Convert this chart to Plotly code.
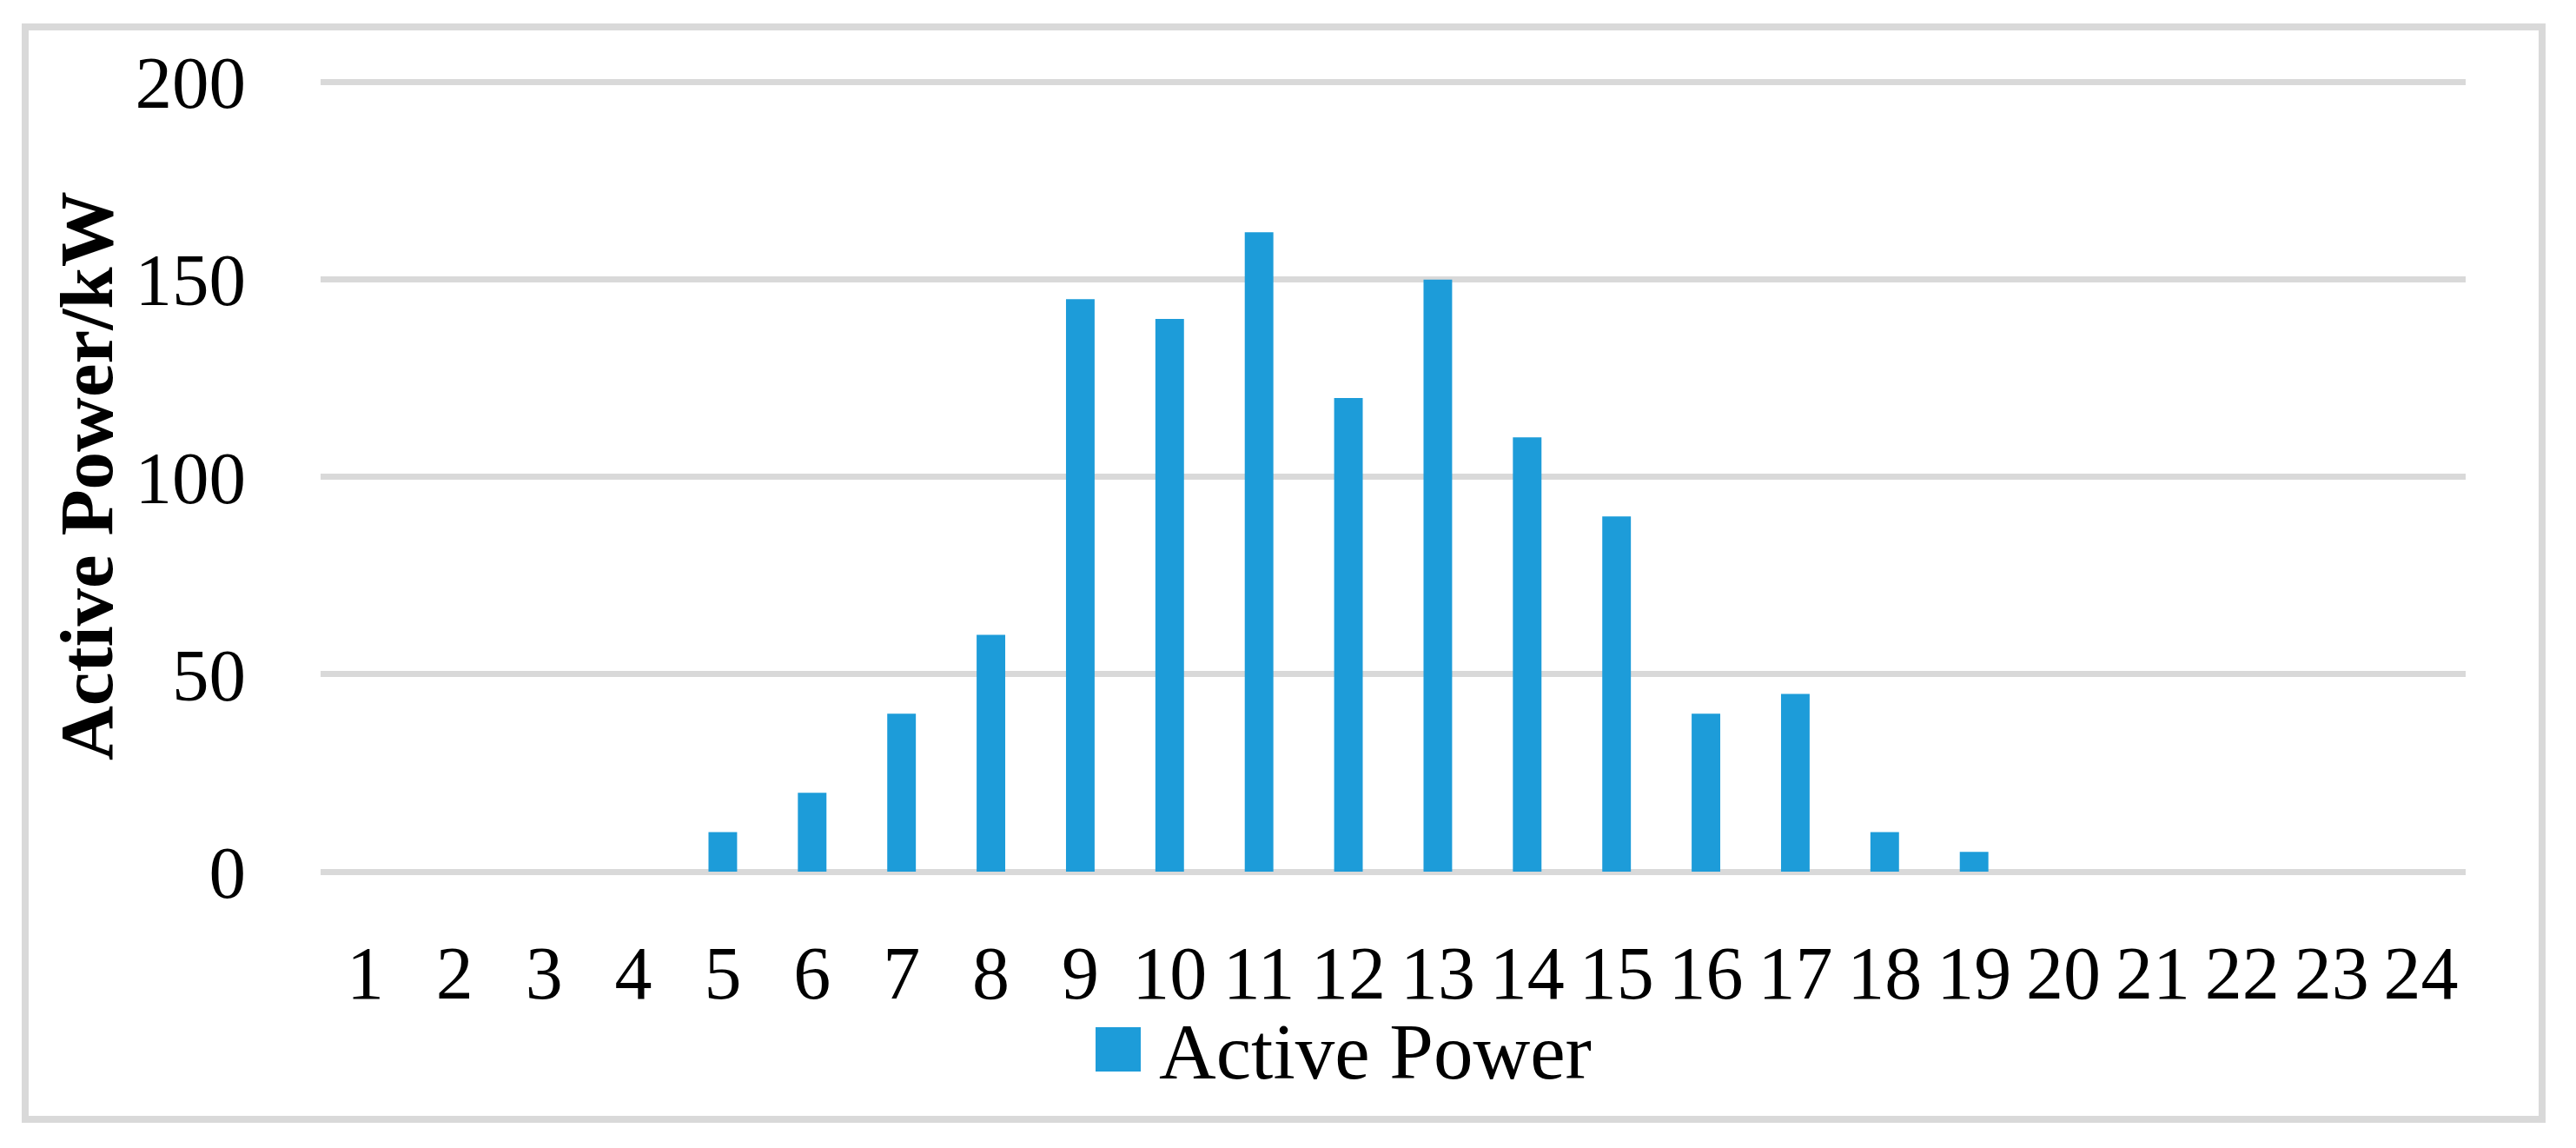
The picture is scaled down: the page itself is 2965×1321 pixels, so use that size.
import plotly.graph_objects as go

hours = [str(h) for h in range(1, 25)]
active_power = [0, 0, 0, 0, 10, 20, 40, 60, 145, 140, 162, 120, 150, 110, 90, 40, 45, 10, 5, 0, 0, 0, 0, 0]
y_ticks = [0, 50, 100, 150, 200]
series_name = "Active Power"
y_title = "Active Power/kW"

OFF = 8  # default page body margin
W, H = 2965 - OFF, 1321 - OFF
L, R, T, B = 361, 127, 82, 318
pw, ph = W - L - R, H - T - B

def px_x(p):
    return (p - OFF - L) / pw

def px_y(p):
    return (H - B - (p - OFF)) / ph

FONT = "Liberation Serif, Times New Roman, serif"
GRAY = "#D9D9D9"
BLUE = "#1D9CD9"

fig = go.Figure()
fig.add_trace(go.Bar(x=hours, y=active_power, name=series_name, marker=dict(color=BLUE, line=dict(width=0)),
                     showlegend=False))

fig.update_layout(
    width=W, height=H,
    margin=dict(l=L, r=R, t=T, b=B, autoexpand=False),
    paper_bgcolor="white", plot_bgcolor="white",
    bargap=0.68,
    font=dict(family=FONT, size=85, color="black"),
    xaxis=dict(type="category", showgrid=False, zeroline=False, showline=False,
               tickmode="array", tickvals=hours, ticktext=hours, tickangle=0,
               ticks="", ticklabelstandoff=59, tickfont=dict(size=86)),
    yaxis=dict(range=[0, 201], tickvals=y_ticks, showgrid=True, gridcolor=GRAY, gridwidth=7,
               zeroline=True, zerolinecolor=GRAY, zerolinewidth=7, showline=False,
               ticks="", ticklabelstandoff=85, tickfont=dict(size=85)),
    shapes=[
        dict(type="rect", xref="paper", yref="paper",
             x0=px_x(29), x1=px_x(2926), y0=px_y(31), y1=px_y(1288),
             line=dict(color=GRAY, width=8), fillcolor="rgba(0,0,0,0)", layer="below"),
        dict(type="rect", xref="paper", yref="paper",
             x0=px_x(1261), x1=px_x(1313), y0=px_y(1182), y1=px_y(1233),
             line=dict(width=0), fillcolor=BLUE),
    ],
    annotations=[
        dict(text=series_name, xref="paper", yref="paper", x=px_x(1332), y=px_y(1210),
             xanchor="left", yanchor="middle", showarrow=False, font=dict(size=91, family=FONT)),
        dict(text="<b>" + y_title + "</b>", xref="paper", yref="paper", x=px_x(99), y=px_y(548),
             xanchor="center", yanchor="middle", textangle=-90, showarrow=False,
             font=dict(size=87, family=FONT)),
    ],
)

fig.write_html("out.html")
